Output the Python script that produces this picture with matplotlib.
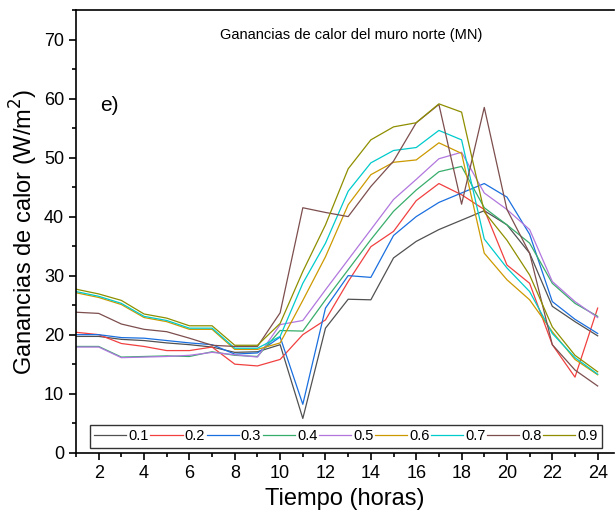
import matplotlib
matplotlib.use("Agg")
import matplotlib.pyplot as plt
from matplotlib.ticker import MultipleLocator

plt.rcParams['font.family'] = ['Liberation Sans', 'DejaVu Sans']

hours = list(range(1, 25))

# Ganancias de calor (W/m2) para cada valor del parametro
g01 = [19.7, 19.7, 19.2, 19.0, 18.6, 18.3, 17.9, 17.0, 17.1, 18.3, 5.8, 21.1,
       26.0, 25.9, 33.0, 35.8, 37.8, 39.4, 41.0, 38.6, 33.8, 24.8, 22.2, 19.8]
g02 = [20.4, 20.0, 18.5, 18.0, 17.3, 17.3, 17.9, 15.0, 14.7, 15.8, 20.0, 22.5,
       29.0, 34.9, 37.5, 42.7, 45.6, 43.7, 41.2, 31.8, 28.7, 18.3, 12.8, 24.5]
g03 = [20.0, 20.0, 19.5, 19.4, 19.0, 18.6, 18.3, 16.7, 16.9, 19.6, 8.2, 24.5,
       30.0, 29.7, 36.8, 40.0, 42.4, 44.0, 45.6, 43.3, 37.0, 25.6, 22.6, 20.2]
g04 = [18.0, 18.0, 16.2, 16.3, 16.4, 16.3, 17.1, 16.5, 16.3, 20.7, 20.6, 25.9,
       31.0, 36.1, 40.9, 44.5, 47.6, 48.5, 41.5, 38.6, 35.5, 28.7, 25.3, 23.1]
g05 = [17.9, 17.9, 16.1, 16.2, 16.3, 16.5, 17.0, 16.6, 16.2, 21.7, 22.4, 27.6,
       32.7, 37.8, 42.9, 46.3, 49.8, 50.9, 44.0, 41.2, 37.8, 29.0, 25.6, 22.9]
g06 = [27.1, 26.3, 25.1, 22.9, 22.2, 20.9, 20.9, 17.5, 17.5, 18.6, 25.8, 33.2,
       42.0, 47.1, 49.2, 49.6, 52.5, 50.7, 33.8, 29.3, 25.9, 20.5, 15.8, 13.2]
g07 = [27.3, 26.5, 25.3, 23.1, 22.4, 21.1, 21.1, 17.7, 17.7, 19.7, 28.7, 35.5,
       44.3, 49.1, 51.2, 51.7, 54.6, 53.0, 36.2, 31.3, 27.3, 20.2, 16.1, 13.3]
g08 = [23.8, 23.6, 21.8, 20.9, 20.5, 19.4, 18.2, 18.0, 18.0, 23.7, 41.5, 40.7,
       40.0, 45.1, 49.4, 55.9, 59.0, 42.1, 58.5, 41.2, 33.8, 18.3, 14.0, 11.3]
g09 = [27.7, 26.9, 25.8, 23.5, 22.8, 21.5, 21.5, 18.2, 18.2, 21.9, 30.7, 38.6,
       48.1, 53.0, 55.2, 55.9, 59.1, 57.7, 40.8, 36.0, 30.1, 21.3, 16.5, 13.7]

series = [g01, g02, g03, g04, g05, g06, g07, g08, g09]
labels = ['0.1', '0.2', '0.3', '0.4', '0.5', '0.6', '0.7', '0.8', '0.9']
colors = ['#515151', '#F14040', '#1A6FDF', '#37AD6B', '#B177DE',
          '#CC9900', '#00CBCC', '#7D4E4E', '#8E8E00']

fig = plt.figure(figsize=(6.16, 5.21), dpi=100)
ax = fig.add_axes([76/616, 1 - 452.7/521, (614 - 76)/616, 442.7/521])

for vals, lab, col in zip(series, labels, colors):
   ax.plot(hours, vals, color=col, lw=0.9, label=lab)

ax.set_xlim(1, 24.72)
ax.set_ylim(0, 75)
ax.xaxis.set_major_locator(MultipleLocator(2))
ax.xaxis.set_minor_locator(MultipleLocator(1))
ax.yaxis.set_major_locator(MultipleLocator(10))
ax.yaxis.set_minor_locator(MultipleLocator(5))
ax.tick_params(which='both', direction='out', labelsize=13, width=1.2)
ax.tick_params(which='major', length=5)
ax.tick_params(which='minor', length=3)
ax.spines['right'].set_visible(False)
for s in ['left', 'bottom', 'top']:
   ax.spines[s].set_linewidth(1.2)

ax.set_xlabel('Tiempo (horas)', fontsize=17, labelpad=5)
ax.set_ylabel('Ganancias de calor (W/m$^2$)', fontsize=17, labelpad=3)

ax.text(0.511, 0.943, 'Ganancias de calor del muro norte (MN)', transform=ax.transAxes,
        ha='center', va='center', fontsize=10.5)
ax.text(0.045, 0.785, 'e)', transform=ax.transAxes, ha='left', va='center', fontsize=15)

leg = ax.legend(loc='lower left', bbox_to_anchor=(0.026, 0.011), borderaxespad=0,
                ncol=9, fontsize=10.5, handlelength=2.2, handletextpad=0.15,
                columnspacing=0.1, fancybox=False, edgecolor='black',
                borderpad=0.3)
leg.get_frame().set_linewidth(1.0)

fig.savefig('out.png', dpi=100)
